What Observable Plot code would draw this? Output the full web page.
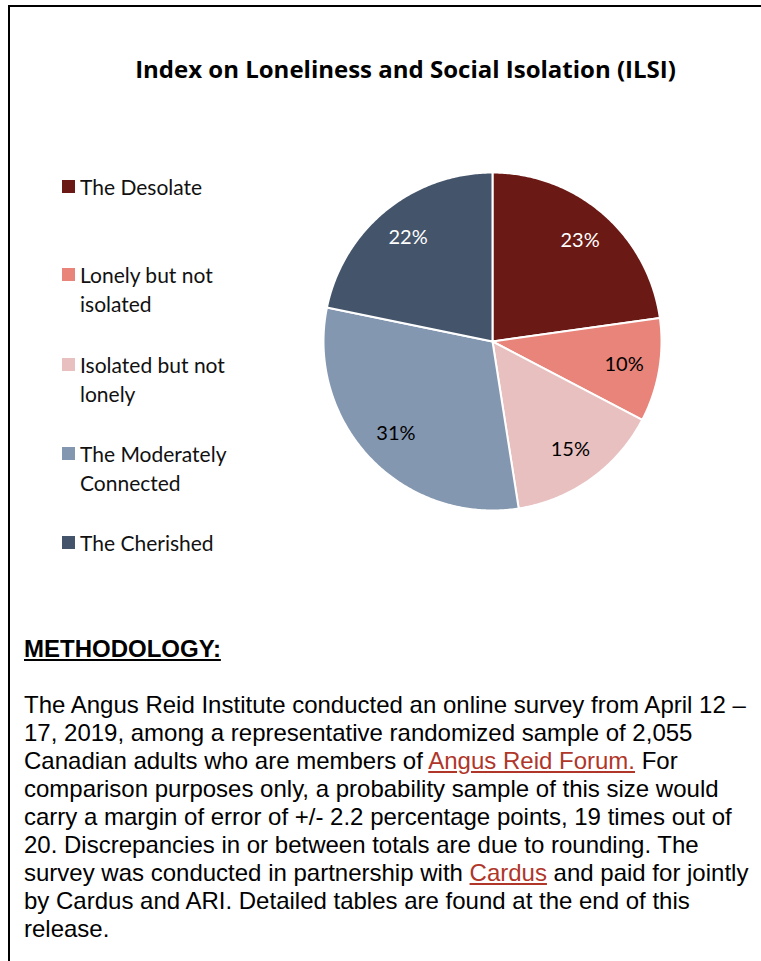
<!DOCTYPE html>
<html>
<head>
<meta charset="utf-8">
<script src="https://cdn.jsdelivr.net/npm/d3@7"></script>
<script src="https://cdn.jsdelivr.net/npm/@observablehq/plot@0.6"></script>
<style>
  html, body { margin: 0; padding: 0; background: #fff; width: 761px; height: 961px; overflow: hidden; }
  #frame { position: absolute; left: 8px; top: 5px; width: 800px; height: 1000px; border-left: 2px solid #000; border-top: 2px solid #000; }
  #title { position: absolute; left: 0; width: 811px; top: 52px; text-align: center; font-family: "Open Sans", Lato, sans-serif; font-weight: bold; font-size: 24px; color: #000; white-space: nowrap; }
  #legend { position: absolute; left: 62px; top: 172px; font-family: Lato, "Open Sans", sans-serif; font-size: 21px; color: #111; }
  .item { position: absolute; left: 0; width: 200px; line-height: 29px; }
  .sw { position: absolute; left: 0; top: 8px; width: 13px; height: 13px; }
  .lbl { position: absolute; left: 18px; top: 0; white-space: nowrap; }
  #pie { position: absolute; left: 322px; top: 171px; }
  #method { position: absolute; left: 24px; top: 630px; width: 740px; font-family: "Liberation Sans", Arial, sans-serif; font-size: 24px; color: #000; white-space: nowrap; }
  #mhead { font-weight: bold; text-decoration: underline; line-height: 38px; }
  #mbody { margin-top: 23px; line-height: 28px; }
  a { color: #B0362A; text-decoration: underline; }
</style>
</head>
<body>
<div id="frame"></div>
<div id="title">Index on Loneliness and Social Isolation (ILSI)</div>
<div id="legend"></div>
<div id="pie"></div>
<div id="method">
  <div id="mhead">METHODOLOGY:</div>
  <div id="mbody">The Angus Reid Institute conducted an online survey from April 12 –<br>17, 2019, among a representative randomized sample of 2,055<br>Canadian adults who are members of <a>Angus Reid Forum.</a> For<br>comparison purposes only, a probability sample of this size would<br>carry a margin of error of +/- 2.2 percentage points, 19 times out of<br>20. Discrepancies in or between totals are due to rounding. The<br>survey was conducted in partnership with <a>Cardus</a> and paid for jointly<br>by Cardus and ARI. Detailed tables are found at the end of this<br>release.</div>
</div>
<script>
const categories = ["The Desolate", "Lonely but not isolated", "Isolated but not lonely", "The Moderately Connected", "The Cherished"];
const legendLines = [["The Desolate"], ["Lonely but not", "isolated"], ["Isolated but not", "lonely"], ["The Moderately", "Connected"], ["The Cherished"]];
const values = [23, 10, 15, 31, 22];
const labels = ["23%", "10%", "15%", "31%", "22%"];
const colors = ["#6B1915", "#E8847A", "#E8C0C0", "#8497B0", "#44546A"];
const labelColors = ["#fff", "#000", "#000", "#000", "#fff"];

// legend
const legendTops = [0, 88, 178, 267, 356];
const leg = document.getElementById("legend");
categories.forEach((c, i) => {
  const it = document.createElement("div");
  it.className = "item";
  it.style.top = legendTops[i] + "px";
  it.innerHTML = `<div class="sw" style="background:${colors[i]}"></div><div class="lbl">${legendLines[i].join("<br>")}</div>`;
  leg.appendChild(it);
});

// pie geometry via d3.pie, drawn with Plot scales
const arcs = d3.pie().sort(null).startAngle(0).endAngle(2 * Math.PI)(values);
const polys = [];
arcs.forEach((a, i) => {
  const n = Math.max(8, Math.ceil((a.endAngle - a.startAngle) / 0.01));
  polys.push({cat: categories[i], x: 0, y: 0, k: 0});
  for (let j = 0; j <= n; j++) {
    const t = a.startAngle + (a.endAngle - a.startAngle) * j / n;
    polys.push({cat: categories[i], x: Math.sin(t), y: Math.cos(t), k: j + 1});
  }
  polys.push({cat: categories[i], x: 0, y: 0, k: n + 2});
});
const labelData = arcs.map((a, i) => {
  const m = (a.startAngle + a.endAngle) / 2;
  return {label: labels[i], color: labelColors[i], x: 0.79 * Math.sin(m), y: 0.79 * Math.cos(m)};
});

const S = 340, R = 169, ext = (S / 2) / R;
const chart = Plot.plot({
  width: S, height: S,
  margin: 0,
  x: {domain: [-ext, ext], axis: null},
  y: {domain: [-ext, ext], axis: null},
  color: {domain: categories, range: colors},
  marks: [
    Plot.line(polys, {x: "x", y: "y", z: "cat", fill: "cat", stroke: "#fff", strokeWidth: 2, curve: "linear-closed"}),
    Plot.text(labelData, {x: "x", y: "y", text: "label", fill: "color", fontSize: 20, fontFamily: "Lato, 'Open Sans', sans-serif"})
  ]
});
document.getElementById("pie").appendChild(chart);
</script>
</body>
</html>
